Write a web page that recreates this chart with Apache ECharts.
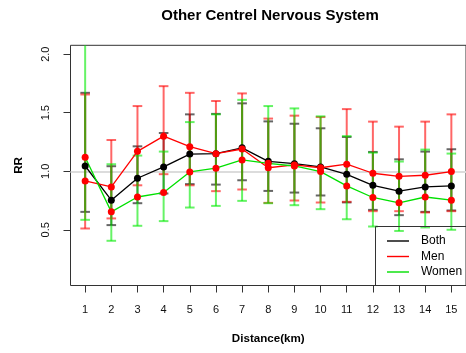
<!DOCTYPE html>
<html>
<head>
<meta charset="utf-8">
<script src="https://cdn.jsdelivr.net/npm/echarts@6/dist/echarts.min.js"></script>
<style>
  html, body { margin: 0; padding: 0; background: #fff; }
  #chart { width: 466px; height: 353px; }
</style>
</head>
<body>
<div id="chart"></div>
<script>
// Relative risk by distance band, with 95% confidence intervals
const distances = [1, 2, 3, 4, 5, 6, 7, 8, 9, 10, 11, 12, 13, 14, 15];
const seriesNames = ['Both', 'Men', 'Women'];

const bothRR = [1.045, 0.753, 0.94, 1.037, 1.147, 1.15, 1.20, 1.085, 1.065, 1.037, 0.974, 0.88, 0.83, 0.866, 0.875];
const bothLo = [0.653, 0.54, 0.727, 0.81, 0.89, 0.886, 0.923, 0.832, 0.818, 0.793, 0.734, 0.67, 0.625, 0.653, 0.665];
const bothHi = [1.67, 1.043, 1.213, 1.327, 1.486, 1.49, 1.58, 1.426, 1.406, 1.367, 1.293, 1.165, 1.102, 1.168, 1.188];

const menRR = [0.917, 0.866, 1.17, 1.30, 1.21, 1.15, 1.19, 1.03, 1.054, 1.03, 1.06, 0.983, 0.957, 0.966, 0.997];
const menLo = [0.511, 0.597, 0.88, 0.975, 0.88, 0.83, 0.844, 0.73, 0.75, 0.733, 0.739, 0.659, 0.659, 0.648, 0.659];
const menHi = [1.656, 1.267, 1.557, 1.727, 1.67, 1.60, 1.665, 1.45, 1.475, 1.463, 1.531, 1.424, 1.381, 1.424, 1.486];

const womenRR = [1.12, 0.653, 0.78, 0.818, 0.994, 1.026, 1.097, 1.068, 1.045, 0.997, 0.875, 0.776, 0.73, 0.78, 0.753];
const womenLo = [0.585, 0.406, 0.534, 0.574, 0.69, 0.704, 0.747, 0.727, 0.71, 0.676, 0.59, 0.528, 0.49, 0.52, 0.5];
const womenHi = [2.14, 1.06, 1.134, 1.168, 1.42, 1.486, 1.61, 1.557, 1.537, 1.469, 1.30, 1.159, 1.083, 1.185, 1.151];

const yTicks = [0.5, 1.0, 1.5, 2.0];

const lineColors = ['#000000', '#ff0000', '#00e000'];
const barColors = ['rgba(0,0,0,0.6)', 'rgba(255,0,0,0.6)', 'rgba(0,235,0,0.6)'];
const dotColors = ['#000000', '#ff0000', '#ff0000'];

const FONT = "'Liberation Sans', Arial, Helvetica, sans-serif";

const groups = [
  { rr: bothRR, lo: bothLo, hi: bothHi },
  { rr: menRR, lo: menLo, hi: menHi },
  { rr: womenRR, lo: womenLo, hi: womenHi }
];

function errorBarRenderer(color) {
  return function (params, api) {
    const x = api.value(0);
    const pLo = api.coord([x, api.value(1)]);
    const pHi = api.coord([x, api.value(2)]);
    const cs = params.coordSys;
    const top = cs.y, bottom = cs.y + cs.height;
    const y1 = Math.max(pHi[1], top);
    const y2 = Math.min(pLo[1], bottom);
    const half = 4.8;
    const style = { stroke: color, lineWidth: 2 };
    const children = [
      { type: 'line', shape: { x1: pLo[0], y1: y1, x2: pLo[0], y2: y2 }, style: style }
    ];
    if (pHi[1] >= top) {
      children.push({ type: 'line', shape: { x1: pHi[0] - half, y1: pHi[1], x2: pHi[0] + half, y2: pHi[1] }, style: style });
    }
    if (pLo[1] <= bottom) {
      children.push({ type: 'line', shape: { x1: pLo[0] - half, y1: pLo[1], x2: pLo[0] + half, y2: pLo[1] }, style: style });
    }
    return { type: 'group', children: children };
  };
}

const series = [];
groups.forEach(function (g, k) {
  const s = {
    name: seriesNames[k] + ' CI',
    type: 'custom',
    z: 2,
    silent: true,
    renderItem: errorBarRenderer(barColors[k]),
    data: distances.map(function (d, i) { return [d, g.lo[i], g.hi[i]]; })
  };
  if (k === 0) {
    s.markLine = {
      silent: true,
      z: 1,
      symbol: 'none',
      label: { show: false },
      lineStyle: { color: '#dcdcdc', width: 2, type: 'solid' },
      data: [{ yAxis: 1 }]
    };
  }
  series.push(s);
});
groups.forEach(function (g, k) {
  series.push({
    name: seriesNames[k],
    type: 'line',
    z: 3,
    clip: true,
    symbol: 'circle',
    symbolSize: 7,
    itemStyle: { color: dotColors[k] },
    lineStyle: { color: lineColors[k], width: 1.3 },
    data: distances.map(function (d, i) { return [d, g.rr[i]]; })
  });
});

// legend box in the lower right corner of the plot
const legendGraphics = [
  { type: 'rect', shape: { x: 375.5, y: 226.5, width: 100, height: 59 }, style: { fill: 'none', stroke: '#333', lineWidth: 1 }, z: 10 }
];
seriesNames.forEach(function (name, k) {
  const y = 241 + k * 15.5;
  legendGraphics.push({ type: 'line', shape: { x1: 387, y1: y, x2: 409, y2: y }, style: { stroke: lineColors[k], lineWidth: 1.4 }, z: 10 });
  legendGraphics.push({ type: 'text', x: 421, y: y, style: { text: name, fill: '#000', font: '12px ' + FONT, textAlign: 'left', textVerticalAlign: 'middle' }, z: 10 });
});

const chart = echarts.init(document.getElementById('chart'), null, { renderer: 'canvas' });
chart.setOption({
  animation: false,
  backgroundColor: '#ffffff',
  grid: {
    left: 70.5, right: -3.5, top: 45.3, bottom: 67.5,
    show: true, borderColor: '#333', borderWidth: 1, backgroundColor: 'transparent'
  },
  xAxis: {
    type: 'value',
    min: 0.44, max: 15.56,
    name: 'Distance(km)',
    nameLocation: 'middle',
    nameGap: 47,
    nameTextStyle: { fontFamily: FONT, fontSize: 11.6, fontWeight: 'bold', color: '#000' },
    axisLine: { show: false },
    splitLine: { show: false },
    axisTick: { show: true, inside: false, length: 7, lineStyle: { color: '#333', width: 1 }, customValues: distances },
    axisLabel: { show: true, margin: 19, fontFamily: FONT, fontSize: 11, color: '#111', customValues: distances }
  },
  yAxis: {
    type: 'value',
    min: 0.024, max: 2.076,
    name: 'RR',
    nameLocation: 'middle',
    nameRotate: 90,
    nameGap: 46,
    nameTextStyle: { fontFamily: FONT, fontSize: 11.6, fontWeight: 'bold', color: '#000' },
    axisLine: { show: false },
    splitLine: { show: false },
    axisTick: { show: true, inside: false, length: 7, lineStyle: { color: '#333', width: 1 }, customValues: yTicks },
    axisLabel: {
      show: true, rotate: 90, margin: 19, fontFamily: FONT, fontSize: 11, color: '#111',
      customValues: yTicks,
      formatter: function (v) { return v.toFixed(1); }
    }
  },
  graphic: [
    { type: 'text', x: 270, y: 15.5, style: { text: 'Other Centrel Nervous System', fill: '#000', font: 'bold 15px ' + FONT, textAlign: 'center', textVerticalAlign: 'middle' } }
  ].concat(legendGraphics),
  series: series
});
</script>
</body>
</html>
